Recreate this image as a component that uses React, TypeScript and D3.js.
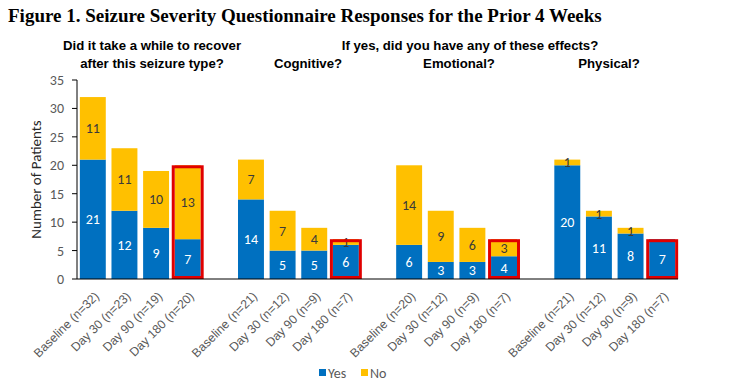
import React from "react";
import * as d3 from "d3";

// chart values
const recoverLabels = ["Baseline (n=32)", "Day 30 (n=23)", "Day 90 (n=19)", "Day 180 (n=20)"];
const cognitiveLabels = ["Baseline (n=21)", "Day 30 (n=12)", "Day 90 (n=9)", "Day 180 (n=7)"];
const emotionalLabels = ["Baseline (n=20)", "Day 30 (n=12)", "Day 90 (n=9)", "Day 180 (n=7)"];
const physicalLabels = ["Baseline (n=21)", "Day 30 (n=12)", "Day 90 (n=9)", "Day 180 (n=7)"];

const recoverYes = [21, 12, 9, 7];
const recoverNo = [11, 11, 10, 13];
const cognitiveYes = [14, 5, 5, 6];
const cognitiveNo = [7, 7, 4, 1];
const emotionalYes = [6, 3, 3, 4];
const emotionalNo = [14, 9, 6, 3];
const physicalYes = [20, 11, 8, 7];
const physicalNo = [1, 1, 1, 0];

const yTicks = [0, 5, 10, 15, 20, 25, 30, 35];
const seriesNames = ["Yes", "No"];

const BLUE = "#0070C0";
const GOLD = "#FFC000";
const RED = "#E00000";
const GREY = "#595959";
const NUM_FONT = "Carlito, Lato, 'Open Sans', sans-serif";
const HEAD_FONT = "'Liberation Sans Narrow', 'Arial Narrow', 'Liberation Sans', sans-serif";

const W = 738;
const H = 390;

type Row = { key: string; label: string; yes: number; no: number; highlight: boolean };

export default function App() {
  const groups = [
    { labels: recoverLabels, yes: recoverYes, no: recoverNo },
    { labels: cognitiveLabels, yes: cognitiveYes, no: cognitiveNo },
    { labels: emotionalLabels, yes: emotionalYes, no: emotionalNo },
    { labels: physicalLabels, yes: physicalYes, no: physicalNo }
  ];

  const rows: Row[] = [];
  const domain: string[] = [];
  groups.forEach((g, gi) => {
    // one empty slot between question groups
    if (gi > 0) domain.push(`gap-${gi}`);
    g.labels.forEach((label, i) => {
      const key = `${gi}-${i}`;
      domain.push(key);
      rows.push({ key, label, yes: g.yes[i], no: g.no[i], highlight: i === g.labels.length - 1 });
    });
  });

  const x = d3.scaleBand<string>().domain(domain).range([77, 678]).paddingInner(0.18).paddingOuter(0.09);
  const y = d3.scaleLinear().domain([0, 35]).range([279, 80]);
  const bw = x.bandwidth();

  const stacked = d3.stack<Row>().keys(["yes", "no"])(rows);

  return (
    <div style={{ position: "fixed", left: 0, top: 0 }}>
      <svg width={W} height={H} viewBox={`0 0 ${W} ${H}`} style={{ display: "block", background: "#fff" }}>
        <text x={8} y={22} fontFamily="'Liberation Serif', 'Times New Roman', serif" fontWeight="bold" fontSize={19} fill="#000">
          Figure 1. Seizure Severity Questionnaire Responses for the Prior 4 Weeks
        </text>

        <g fontFamily={HEAD_FONT} fontWeight="bold" fontSize={13.2} fill="#000" textAnchor="middle">
          <text x={152} y={50}>Did it take a while to recover</text>
          <text x={152} y={68}>after this seizure type?</text>
          <text x={470} y={50}>If yes, did you have any of these effects?</text>
          <text x={308} y={68}>Cognitive?</text>
          <text x={459} y={68}>Emotional?</text>
          <text x={609} y={68}>Physical?</text>
        </g>

        {/* y axis */}
        <g>
          <line x1={77} x2={77} y1={y(35)} y2={y(0)} stroke="#000" strokeWidth={1} />
          {yTicks.map((t) => (
            <g key={t}>
              <line x1={72} x2={77} y1={y(t)} y2={y(t)} stroke="#000" strokeWidth={1} />
              <text x={64} y={y(t)} dy="0.36em" textAnchor="end" fontFamily={NUM_FONT} fontSize={14} fill={GREY}>
                {t}
              </text>
            </g>
          ))}
          <text
            transform={`translate(41, ${(y(0) + y(35)) / 2}) rotate(-90)`}
            textAnchor="middle"
            fontFamily={NUM_FONT}
            fontSize={15}
            fill="#262626"
          >
            Number of Patients
          </text>
        </g>

        {/* bars */}
        {stacked.map((layer, li) => (
          <g key={layer.key} fill={li === 0 ? BLUE : GOLD}>
            {layer.map((d) => {
              const h = y(d[0]) - y(d[1]);
              if (h <= 0) return null;
              return <rect key={d.data.key} x={x(d.data.key)} y={y(d[1])} width={bw} height={h} />;
            })}
          </g>
        ))}

        {/* value labels */}
        {stacked.map((layer, li) => (
          <g key={`lab-${layer.key}`} fontFamily={NUM_FONT} fontSize={14} textAnchor="middle" fill={li === 0 ? "#fff" : "#3a3a3a"}>
            {layer.map((d) => {
              const v = d[1] - d[0];
              if (v <= 0) return null;
              return (
                <text key={d.data.key} x={(x(d.data.key) as number) + bw / 2} y={(y(d[0]) + y(d[1])) / 2} dy="0.35em">
                  {v}
                </text>
              );
            })}
          </g>
        ))}

        {/* red highlight boxes around Day 180 */}
        {rows
          .filter((r) => r.highlight)
          .map((r) => {
            const top = y(r.yes + r.no);
            return (
              <rect
                key={`hl-${r.key}`}
                x={(x(r.key) as number) - 1.5}
                y={top + 1.5}
                width={bw + 3}
                height={y(0) - top - 3}
                fill="none"
                stroke={RED}
                strokeWidth={3}
              />
            );
          })}

        {/* x axis */}
        <line x1={77} x2={678} y1={y(0)} y2={y(0)} stroke="#000" strokeWidth={1} />
        {rows.map((r) => {
          const cx = (x(r.key) as number) + bw / 2;
          return (
            <text
              key={`xl-${r.key}`}
              transform={`translate(${cx + 7}, ${y(0) + 18}) rotate(-45)`}
              textAnchor="end"
              fontFamily="'Liberation Sans', Arial, sans-serif"
              fontSize={12.3}
              fill={GREY}
            >
              {r.label}
            </text>
          );
        })}

        {/* legend */}
        <g fontFamily={NUM_FONT} fontSize={14} fill={GREY}>
          {seriesNames.map((name, i) => {
            const lx = 319 + i * 42;
            return (
              <g key={name}>
                <rect x={lx} y={369} width={7} height={7} fill={i === 0 ? BLUE : GOLD} />
                <text x={lx + 9} y={377.5}>
                  {name}
                </text>
              </g>
            );
          })}
        </g>
      </svg>
    </div>
  );
}
